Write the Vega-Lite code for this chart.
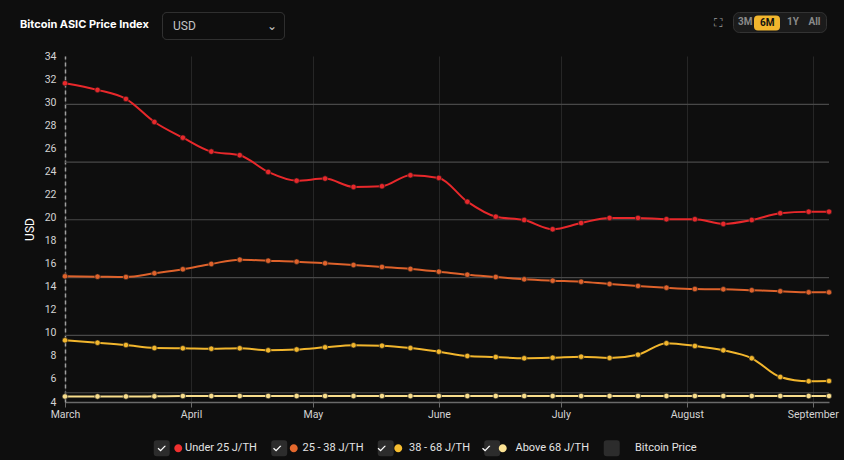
{
  "$schema": "https://vega.github.io/schema/vega-lite/v6.json",
  "width": 764,
  "height": 346,
  "autosize": "none",
  "padding": {"left": 65, "top": 56, "right": 15, "bottom": 58},
  "background": "#0e0e0e",
  "title": {
    "text": "Bitcoin ASIC Price Index",
    "anchor": "start",
    "frame": "group",
    "dx": -45,
    "dy": 38,
    "offset": 20,
    "font": "Inter",
    "fontSize": 11,
    "fontWeight": "bold",
    "color": "#ffffff"
  },
  "config": {
    "view": {"stroke": null},
    "font": "Roboto"
  },
  "datasets": {
    "currency": [{"currency": "USD"}],
    "ranges": [
      {"range": "3M", "selected": false},
      {"range": "6M", "selected": true},
      {"range": "1Y", "selected": false},
      {"range": "All", "selected": false}
    ],
    "toggles": [
      {"item": "Under 25 J/TH"},
      {"item": "25 - 38 J/TH"},
      {"item": "38 - 68 J/TH"},
      {"item": "Above 68 J/TH"},
      {"item": "Bitcoin Price"}
    ],
    "grid": [
      {"value": 4.8}, {"value": 9.78}, {"value": 14.78},
      {"value": 19.8}, {"value": 24.8}, {"value": 29.8}
    ],
    "asic": [
      {"date": "2024-03-01T00:00", "series": "Under 25 J/TH", "value": 31.64},
      {"date": "2024-03-09T00:00", "series": "Under 25 J/TH", "value": 31.06},
      {"date": "2024-03-16T00:00", "series": "Under 25 J/TH", "value": 30.28},
      {"date": "2024-03-23T00:00", "series": "Under 25 J/TH", "value": 28.28},
      {"date": "2024-03-30T00:00", "series": "Under 25 J/TH", "value": 26.92},
      {"date": "2024-04-06T00:00", "series": "Under 25 J/TH", "value": 25.71},
      {"date": "2024-04-13T00:00", "series": "Under 25 J/TH", "value": 25.4},
      {"date": "2024-04-20T00:00", "series": "Under 25 J/TH", "value": 23.95},
      {"date": "2024-04-27T00:00", "series": "Under 25 J/TH", "value": 23.19},
      {"date": "2024-05-04T00:00", "series": "Under 25 J/TH", "value": 23.37},
      {"date": "2024-05-11T00:00", "series": "Under 25 J/TH", "value": 22.65},
      {"date": "2024-05-18T00:00", "series": "Under 25 J/TH", "value": 22.71},
      {"date": "2024-05-25T00:00", "series": "Under 25 J/TH", "value": 23.66},
      {"date": "2024-06-01T00:00", "series": "Under 25 J/TH", "value": 23.43},
      {"date": "2024-06-08T00:00", "series": "Under 25 J/TH", "value": 21.37},
      {"date": "2024-06-15T00:00", "series": "Under 25 J/TH", "value": 20.07},
      {"date": "2024-06-22T00:00", "series": "Under 25 J/TH", "value": 19.78},
      {"date": "2024-06-29T00:00", "series": "Under 25 J/TH", "value": 18.98},
      {"date": "2024-07-06T00:00", "series": "Under 25 J/TH", "value": 19.52},
      {"date": "2024-07-13T00:00", "series": "Under 25 J/TH", "value": 19.96},
      {"date": "2024-07-20T00:00", "series": "Under 25 J/TH", "value": 19.96},
      {"date": "2024-07-27T00:00", "series": "Under 25 J/TH", "value": 19.85},
      {"date": "2024-08-03T00:00", "series": "Under 25 J/TH", "value": 19.85},
      {"date": "2024-08-10T00:00", "series": "Under 25 J/TH", "value": 19.44},
      {"date": "2024-08-17T00:00", "series": "Under 25 J/TH", "value": 19.78},
      {"date": "2024-08-24T00:00", "series": "Under 25 J/TH", "value": 20.37},
      {"date": "2024-08-31T00:00", "series": "Under 25 J/TH", "value": 20.5},
      {"date": "2024-09-05T00:00", "series": "Under 25 J/TH", "value": 20.5},

      {"date": "2024-03-01T00:00", "series": "25 - 38 J/TH", "value": 14.9},
      {"date": "2024-03-09T00:00", "series": "25 - 38 J/TH", "value": 14.87},
      {"date": "2024-03-16T00:00", "series": "25 - 38 J/TH", "value": 14.84},
      {"date": "2024-03-23T00:00", "series": "25 - 38 J/TH", "value": 15.16},
      {"date": "2024-03-30T00:00", "series": "25 - 38 J/TH", "value": 15.51},
      {"date": "2024-04-06T00:00", "series": "25 - 38 J/TH", "value": 15.97},
      {"date": "2024-04-13T00:00", "series": "25 - 38 J/TH", "value": 16.34},
      {"date": "2024-04-20T00:00", "series": "25 - 38 J/TH", "value": 16.25},
      {"date": "2024-04-27T00:00", "series": "25 - 38 J/TH", "value": 16.17},
      {"date": "2024-05-04T00:00", "series": "25 - 38 J/TH", "value": 16.03},
      {"date": "2024-05-11T00:00", "series": "25 - 38 J/TH", "value": 15.88},
      {"date": "2024-05-18T00:00", "series": "25 - 38 J/TH", "value": 15.71},
      {"date": "2024-05-25T00:00", "series": "25 - 38 J/TH", "value": 15.54},
      {"date": "2024-06-01T00:00", "series": "25 - 38 J/TH", "value": 15.3},
      {"date": "2024-06-08T00:00", "series": "25 - 38 J/TH", "value": 15.04},
      {"date": "2024-06-15T00:00", "series": "25 - 38 J/TH", "value": 14.84},
      {"date": "2024-06-22T00:00", "series": "25 - 38 J/TH", "value": 14.64},
      {"date": "2024-06-29T00:00", "series": "25 - 38 J/TH", "value": 14.52},
      {"date": "2024-07-06T00:00", "series": "25 - 38 J/TH", "value": 14.43},
      {"date": "2024-07-13T00:00", "series": "25 - 38 J/TH", "value": 14.23},
      {"date": "2024-07-20T00:00", "series": "25 - 38 J/TH", "value": 14.06},
      {"date": "2024-07-27T00:00", "series": "25 - 38 J/TH", "value": 13.91},
      {"date": "2024-08-03T00:00", "series": "25 - 38 J/TH", "value": 13.8},
      {"date": "2024-08-10T00:00", "series": "25 - 38 J/TH", "value": 13.77},
      {"date": "2024-08-17T00:00", "series": "25 - 38 J/TH", "value": 13.69},
      {"date": "2024-08-24T00:00", "series": "25 - 38 J/TH", "value": 13.6},
      {"date": "2024-08-31T00:00", "series": "25 - 38 J/TH", "value": 13.51},
      {"date": "2024-09-05T00:00", "series": "25 - 38 J/TH", "value": 13.51},

      {"date": "2024-03-01T00:00", "series": "38 - 68 J/TH", "value": 9.35},
      {"date": "2024-03-09T00:00", "series": "38 - 68 J/TH", "value": 9.14},
      {"date": "2024-03-16T00:00", "series": "38 - 68 J/TH", "value": 8.94},
      {"date": "2024-03-23T00:00", "series": "38 - 68 J/TH", "value": 8.68},
      {"date": "2024-03-30T00:00", "series": "38 - 68 J/TH", "value": 8.66},
      {"date": "2024-04-06T00:00", "series": "38 - 68 J/TH", "value": 8.62},
      {"date": "2024-04-13T00:00", "series": "38 - 68 J/TH", "value": 8.66},
      {"date": "2024-04-20T00:00", "series": "38 - 68 J/TH", "value": 8.48},
      {"date": "2024-04-27T00:00", "series": "38 - 68 J/TH", "value": 8.55},
      {"date": "2024-05-04T00:00", "series": "38 - 68 J/TH", "value": 8.74},
      {"date": "2024-05-11T00:00", "series": "38 - 68 J/TH", "value": 8.92},
      {"date": "2024-05-18T00:00", "series": "38 - 68 J/TH", "value": 8.88},
      {"date": "2024-05-25T00:00", "series": "38 - 68 J/TH", "value": 8.68},
      {"date": "2024-06-01T00:00", "series": "38 - 68 J/TH", "value": 8.36},
      {"date": "2024-06-08T00:00", "series": "38 - 68 J/TH", "value": 7.99},
      {"date": "2024-06-15T00:00", "series": "38 - 68 J/TH", "value": 7.9},
      {"date": "2024-06-22T00:00", "series": "38 - 68 J/TH", "value": 7.79},
      {"date": "2024-06-29T00:00", "series": "38 - 68 J/TH", "value": 7.84},
      {"date": "2024-07-06T00:00", "series": "38 - 68 J/TH", "value": 7.93},
      {"date": "2024-07-13T00:00", "series": "38 - 68 J/TH", "value": 7.82},
      {"date": "2024-07-20T00:00", "series": "38 - 68 J/TH", "value": 8.1},
      {"date": "2024-07-27T00:00", "series": "38 - 68 J/TH", "value": 9.09},
      {"date": "2024-08-03T00:00", "series": "38 - 68 J/TH", "value": 8.86},
      {"date": "2024-08-10T00:00", "series": "38 - 68 J/TH", "value": 8.48},
      {"date": "2024-08-17T00:00", "series": "38 - 68 J/TH", "value": 7.79},
      {"date": "2024-08-24T00:00", "series": "38 - 68 J/TH", "value": 6.17},
      {"date": "2024-08-31T00:00", "series": "38 - 68 J/TH", "value": 5.8},
      {"date": "2024-09-05T00:00", "series": "38 - 68 J/TH", "value": 5.82},

      {"date": "2024-03-01T00:00", "series": "Above 68 J/TH", "value": 4.48},
      {"date": "2024-03-09T00:00", "series": "Above 68 J/TH", "value": 4.48},
      {"date": "2024-03-16T00:00", "series": "Above 68 J/TH", "value": 4.48},
      {"date": "2024-03-23T00:00", "series": "Above 68 J/TH", "value": 4.49},
      {"date": "2024-03-30T00:00", "series": "Above 68 J/TH", "value": 4.52},
      {"date": "2024-04-06T00:00", "series": "Above 68 J/TH", "value": 4.52},
      {"date": "2024-04-13T00:00", "series": "Above 68 J/TH", "value": 4.52},
      {"date": "2024-04-20T00:00", "series": "Above 68 J/TH", "value": 4.52},
      {"date": "2024-04-27T00:00", "series": "Above 68 J/TH", "value": 4.52},
      {"date": "2024-05-04T00:00", "series": "Above 68 J/TH", "value": 4.52},
      {"date": "2024-05-11T00:00", "series": "Above 68 J/TH", "value": 4.52},
      {"date": "2024-05-18T00:00", "series": "Above 68 J/TH", "value": 4.52},
      {"date": "2024-05-25T00:00", "series": "Above 68 J/TH", "value": 4.52},
      {"date": "2024-06-01T00:00", "series": "Above 68 J/TH", "value": 4.52},
      {"date": "2024-06-08T00:00", "series": "Above 68 J/TH", "value": 4.52},
      {"date": "2024-06-15T00:00", "series": "Above 68 J/TH", "value": 4.52},
      {"date": "2024-06-22T00:00", "series": "Above 68 J/TH", "value": 4.52},
      {"date": "2024-06-29T00:00", "series": "Above 68 J/TH", "value": 4.52},
      {"date": "2024-07-06T00:00", "series": "Above 68 J/TH", "value": 4.52},
      {"date": "2024-07-13T00:00", "series": "Above 68 J/TH", "value": 4.52},
      {"date": "2024-07-20T00:00", "series": "Above 68 J/TH", "value": 4.52},
      {"date": "2024-07-27T00:00", "series": "Above 68 J/TH", "value": 4.52},
      {"date": "2024-08-03T00:00", "series": "Above 68 J/TH", "value": 4.52},
      {"date": "2024-08-10T00:00", "series": "Above 68 J/TH", "value": 4.52},
      {"date": "2024-08-17T00:00", "series": "Above 68 J/TH", "value": 4.52},
      {"date": "2024-08-24T00:00", "series": "Above 68 J/TH", "value": 4.52},
      {"date": "2024-08-31T00:00", "series": "Above 68 J/TH", "value": 4.52},
      {"date": "2024-09-05T00:00", "series": "Above 68 J/TH", "value": 4.52}
    ]
  },
  "layer": [
    {
      "data": {"name": "toggles"},
      "mark": {"type": "point", "filled": true, "color": "#2c2c2c", "opacity": 0},
      "encoding": {
        "shape": {
          "field": "item",
          "type": "nominal",
          "sort": null,
          "scale": {"range": ["M-0.7,0 L-1,0 L-1,-0.36 Q-1,-0.56 -0.8,-0.56 L-0.08,-0.56 Q0.12,-0.56 0.12,-0.36 L0.12,0.36 Q0.12,0.56 -0.08,0.56 L-0.8,0.56 Q-1,0.56 -1,0.36 L-1,0 Z"]},
          "legend": {
            "title": null,
            "orient": "none",
            "direction": "horizontal",
            "legendX": 88,
            "legendY": 377,
            "columns": 5,
            "columnPadding": 11.5,
            "labelColor": "#e4e4e4",
            "labelFont": "Roboto",
            "labelFontSize": 11,
            "labelOffset": 2,
            "symbolSize": 812,
            "symbolOpacity": 1,
            "symbolFillColor": "#2c2c2c",
            "symbolStrokeColor": "rgba(0,0,0,0)",
            "symbolStrokeWidth": 1.3
          }
        }
      }
    },
    {
      "data": {"name": "currency"},
      "mark": {"type": "point", "filled": false, "color": "#3c3c3c", "opacity": 0},
      "encoding": {
        "strokeDash": {
          "field": "currency",
          "type": "nominal",
          "scale": {"range": [[1, 0]]},
          "legend": {
            "title": null,
            "orient": "none",
            "direction": "horizontal",
            "legendX": 97,
            "legendY": -44,
            "labelColor": "#c4c4c4",
            "labelFont": "Roboto",
            "labelFontSize": 12,
            "labelOffset": -17,
            "labelLimit": 200,
            "labelExpr": "datum.label + '\u00a0\u00a0\u00a0\u00a0\u00a0\u00a0\u00a0\u00a0\u00a0\u00a0\u00a0\u00a0\u00a0\u00a0\u00a0\u00a0\u00a0\u00a0\u00a0\u00a0\u00a0\u00a0\u00a0\u00a0\u2304'",
            "symbolType": "M-0.63,-1 L7.67,-1 Q8.04,-1 8.04,-0.63 L8.04,0.63 Q8.04,1 7.67,1 L-0.63,1 Q-1,1 -1,0.63 L-1,-0.63 Q-1,-1 -0.63,-1 Z",
            "symbolSize": 729,
            "symbolOpacity": 1,
            "symbolStrokeColor": "#3c3c3c",
            "symbolStrokeWidth": 1,
            "symbolFillColor": "rgba(0,0,0,0)"
          }
        }
      }
    },
    {
      "data": {"name": "ranges"},
      "mark": {"type": "point", "filled": true, "color": "rgba(0,0,0,0)", "opacity": 0},
      "encoding": {
        "opacity": {
          "field": "range",
          "type": "nominal",
          "sort": null,
          "scale": {"range": [1, 1]},
          "legend": {
            "title": null,
            "orient": "none",
            "direction": "horizontal",
            "legendX": 668,
            "legendY": -44,
            "padding": 5,
            "fillColor": "#1b1b1b",
            "strokeColor": "#333333",
            "cornerRadius": 6,
            "columnPadding": 9.5,
            "labelColor": "#8a8a8a",
            "labelFont": "Roboto",
            "labelFontSize": 10,
            "labelFontWeight": "bold",
            "labelOffset": -10,
            "symbolSize": 0.01,
            "symbolOpacity": 0,
            "symbolStrokeWidth": 0
          }
        }
      }
    },
    {
      "data": {"name": "ranges"},
      "transform": [{"filter": "datum.selected"}],
      "mark": {"type": "point", "filled": true, "color": "#f2b62d", "opacity": 0},
      "encoding": {
        "size": {
          "field": "range",
          "type": "nominal",
          "scale": {"range": [256, 256]},
          "legend": {
            "title": "\u26f6",
            "titleOrient": "left",
            "titlePadding": 32,
            "titleColor": "#9a9a9a",
            "titleFont": "DejaVu Sans",
            "titleFontSize": 12,
            "titleFontWeight": "normal",
            "orient": "none",
            "direction": "horizontal",
            "legendX": 649,
            "legendY": -41,
            "labelColor": "#111111",
            "labelFont": "Roboto",
            "labelFontSize": 10,
            "labelFontWeight": "bold",
            "labelOffset": -10,
            "symbolType": "M-0.5,-0.95 L1.75,-0.95 Q2.25,-0.95 2.25,-0.45 L2.25,0.45 Q2.25,0.95 1.75,0.95 L-0.5,0.95 Q-1,0.95 -1,0.45 L-1,-0.45 Q-1,-0.95 -0.5,-0.95 Z",
            "symbolOpacity": 1,
            "symbolFillColor": "#f2b62d",
            "symbolStrokeWidth": 0
          }
        }
      }
    },
    {
      "data": {"name": "toggles"},
      "transform": [{"filter": "datum.item !== 'Bitcoin Price'"}],
      "mark": {"type": "point", "filled": true, "opacity": 0},
      "encoding": {
        "stroke": {"value": "#ffffff"},
        "fill": {
          "field": "item",
          "type": "nominal",
          "scale": {
            "domain": ["Under 25 J/TH", "25 - 38 J/TH", "38 - 68 J/TH", "Above 68 J/TH"],
            "range": ["#f0302f", "#e4682d", "#f6bd30", "#fbe293"]
          },
          "legend": {
            "title": null,
            "orient": "none",
            "direction": "horizontal",
            "legendX": 88,
            "legendY": 377,
            "columns": 4,
            "columnPadding": 11.5,
            "labelFont": "Roboto",
            "labelFontSize": 11,
            "labelOffset": 2,
            "labelOpacity": 0,
            "symbolType": "M-0.7,0 L-0.52,0.17 L-0.18,-0.18 L-0.52,0.17 L-0.7,0 L0.44,0 A0.28,0.28 0 1,1 1,0 A0.28,0.28 0 1,1 0.44,0 L-0.7,0 Z",
            "symbolSize": 812,
            "symbolOpacity": 1,
            "symbolStrokeColor": "#ffffff",
            "symbolStrokeWidth": 1.3,
            "symbolDash": [10.5, 2000]
          }
        }
      }
    },
    {
      "encoding": {
        "y": {
          "field": "value",
          "type": "quantitative",
          "scale": {"domain": [4, 34], "nice": false, "zero": false},
          "axis": {
            "title": "USD",
            "titleColor": "#ffffff",
            "titleFont": "Roboto",
            "titleFontSize": 12,
            "titleFontWeight": "normal",
            "titlePadding": 8,
            "values": [4, 6, 8, 10, 12, 14, 16, 18, 20, 22, 24, 26, 28, 30, 32, 34],
            "labelOverlap": false,
            "grid": false,
            "ticks": false,
            "labelColor": "#d4d4d4",
            "labelFontSize": 10.5,
            "labelPadding": 9,
            "domainColor": "#a0a0a0",
            "domainWidth": 1.5,
            "domainDash": [4, 3]
          }
        }
      },
      "layer": [
        {
          "data": {"name": "grid"},
          "mark": {"type": "rule", "color": "#484848", "strokeWidth": 1.2},
          "encoding": {}
        },
        {
          "data": {"name": "asic"},
          "mark": {"type": "line", "interpolate": "monotone", "strokeWidth": 2},
          "encoding": {
            "x": {
              "field": "date",
              "type": "temporal",
              "scale": {"domain": [{"year": 2024, "month": 3, "date": 1}, {"year": 2024, "month": 9, "date": 5}], "nice": false},
              "axis": {
                "title": null,
                "format": "%B",
                "tickCount": {"interval": "month", "step": 1},
                "labelColor": "#d4d4d4",
                "labelFontSize": 10.5,
                "labelPadding": 2,
                "labelFlush": false,
                "labelOverlap": false,
                "grid": true,
                "gridColor": "#262626",
                "domainColor": "#6a6a6a",
                "domainWidth": 1.5,
                "tickColor": "#6a6a6a",
                "tickSize": 5
              }
            },
            "color": {
              "field": "series",
              "type": "nominal",
              "scale": {
                "domain": ["Under 25 J/TH", "25 - 38 J/TH", "38 - 68 J/TH", "Above 68 J/TH", "Bitcoin Price"],
                "range": ["#e8282b", "#de622b", "#f2b62d", "#f8dd8c", "#2a2a2a"]
              },
              "legend": null
            }
          }
        },
        {
          "data": {"name": "asic"},
          "mark": {"type": "point", "filled": true, "size": 30, "opacity": 1, "stroke": "#1a1a1a", "strokeWidth": 0.6},
          "encoding": {
            "x": {"field": "date", "type": "temporal"},
            "color": {"field": "series", "type": "nominal", "legend": null}
          }
        }
      ]
    }
  ]
}
